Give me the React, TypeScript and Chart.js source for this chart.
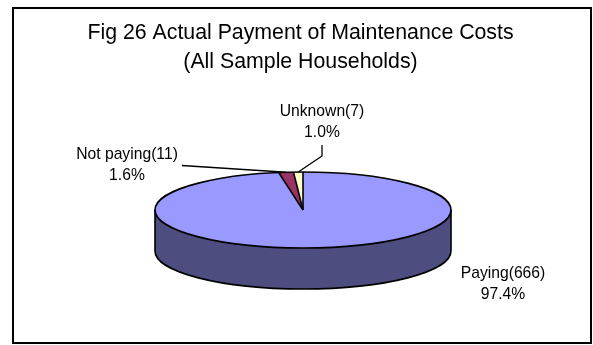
import React, { useEffect, useRef } from "react";
import { Chart, registerables } from "chart.js";

Chart.register(...registerables);

// ---- data ----
const categories = ["Paying", "Not paying", "Unknown"];
const counts = [666, 11, 7];
const titleLines = ["Fig 26 Actual Payment of Maintenance Costs", "(All Sample Households)"];

// ---- styles / layout ----
const sliceColors = ["#9999FF", "#993366", "#FFFFCC"];
const sideColors = ["#4D4D80", "#4D1A33", "#808066"];
const FONT = '"Liberation Sans", Arial, sans-serif';
const W = 593;
const H = 345;
const PIE = { cx: 303, cy: 210, rx: 148, ry: 38, depth: 41 };
// first-line centre of each label block
const labelX = [503, 127, 322];
const labelY = [274, 155, 112];
const leaderKind = ["none", "side", "below"];
const LINE_GAP = 21;

const pt = (a: number, dy = 0) => [PIE.cx + PIE.rx * Math.cos(a), PIE.cy + dy + PIE.ry * Math.sin(a)];

const pie3d = {
  id: "pie3d",
  beforeDraw(chart: any) {
    const ctx = chart.ctx;
    ctx.save();
    ctx.fillStyle = "#ffffff";
    ctx.fillRect(0, 0, chart.width, chart.height);
    ctx.strokeStyle = "#000";
    ctx.lineWidth = 2;
    ctx.strokeRect(13, 8, 578, 335);
    ctx.restore();
  },
  beforeDatasetsDraw(chart: any) {
    const ctx = chart.ctx;
    const arcs = chart.getDatasetMeta(0).data;
    if (!arcs.length) return;
    // front side band of each slice
    ctx.save();
    arcs.forEach((arc: any, i: number) => {
      const s = Math.max(arc.startAngle, 0);
      const e = Math.min(arc.endAngle, Math.PI);
      if (e <= s) return;
      const [x0, y0] = pt(s);
      const [x1, y1] = pt(e, PIE.depth);
      ctx.beginPath();
      ctx.moveTo(x0, y0);
      ctx.ellipse(PIE.cx, PIE.cy, PIE.rx, PIE.ry, 0, s, e);
      ctx.lineTo(x1, y1);
      ctx.ellipse(PIE.cx, PIE.cy + PIE.depth, PIE.rx, PIE.ry, 0, e, s, true);
      ctx.closePath();
      ctx.fillStyle = sideColors[i];
      ctx.fill();
    });
    ctx.restore();
    // project the library's circular pie onto the tilted ellipse
    const { x, y, outerRadius: R } = arcs[0];
    ctx.save();
    ctx.translate(PIE.cx, PIE.cy);
    ctx.scale(PIE.rx / R, PIE.ry / R);
    ctx.translate(-x, -y);
  },
  afterDatasetsDraw(chart: any) {
    const ctx = chart.ctx;
    const arcs = chart.getDatasetMeta(0).data;
    if (!arcs.length) return;
    ctx.restore();
    ctx.save();
    ctx.strokeStyle = "#000";
    ctx.lineWidth = 1.6;
    ctx.lineJoin = "round";
    // side outline
    ctx.beginPath();
    const [lx, ly] = pt(Math.PI);
    const [rx0, ry0] = pt(0);
    ctx.moveTo(rx0, ry0);
    ctx.lineTo(rx0, ry0 + PIE.depth);
    ctx.ellipse(PIE.cx, PIE.cy + PIE.depth, PIE.rx, PIE.ry, 0, 0, Math.PI);
    ctx.lineTo(lx, ly);
    ctx.stroke();
    // slice boundaries on the side
    arcs.forEach((arc: any) => {
      const a = arc.startAngle;
      if (a > 0.001 && a < Math.PI - 0.001) {
        const [bx, by] = pt(a);
        ctx.beginPath();
        ctx.moveTo(bx, by);
        ctx.lineTo(bx, by + PIE.depth);
        ctx.stroke();
      }
    });
    // top outline
    ctx.beginPath();
    ctx.ellipse(PIE.cx, PIE.cy, PIE.rx, PIE.ry, 0, 0, Math.PI * 2);
    ctx.stroke();
    // radial boundaries
    arcs.forEach((arc: any) => {
      const [bx, by] = pt(arc.startAngle);
      ctx.beginPath();
      ctx.moveTo(PIE.cx, PIE.cy);
      ctx.lineTo(bx, by);
      ctx.stroke();
    });
    // labels
    const total = counts.reduce((p, c) => p + c, 0);
    ctx.fillStyle = "#000";
    ctx.font = `15.7px ${FONT}`;
    ctx.textAlign = "center";
    ctx.textBaseline = "middle";
    ctx.lineWidth = 1.3;
    arcs.forEach((arc: any, i: number) => {
      const l1 = `${categories[i]}(${counts[i]})`;
      const l2 = `${((counts[i] / total) * 100).toFixed(1)}%`;
      const x = labelX[i];
      const y = labelY[i];
      ctx.fillText(l1, x, y);
      ctx.fillText(l2, x, y + LINE_GAP);
      const mid = (arc.startAngle + arc.endAngle) / 2;
      const [mx, my] = pt(mid);
      if (leaderKind[i] === "side") {
        const w = ctx.measureText(l1).width;
        ctx.beginPath();
        ctx.moveTo(x + w / 2 + 4, y + LINE_GAP / 2);
        ctx.lineTo(mx, my);
        ctx.stroke();
      } else if (leaderKind[i] === "below") {
        ctx.beginPath();
        ctx.moveTo(x, y + LINE_GAP + 12);
        ctx.lineTo(x, y + LINE_GAP + 23);
        ctx.lineTo(mx, my);
        ctx.stroke();
      }
    });
    ctx.restore();
  },
};

export default function App() {
  const ref = useRef<HTMLCanvasElement>(null);
  useEffect(() => {
    if (!ref.current) return;
    const chart = new Chart(ref.current, {
      type: "pie",
      data: {
        labels: categories,
        datasets: [
          {
            data: counts,
            backgroundColor: sliceColors,
            borderWidth: 0,
            clip: false as any,
          },
        ],
      },
      options: {
        responsive: false,
        animation: false,
        events: [],
        devicePixelRatio: 1,
        layout: { padding: { top: 8, left: 8, right: 0, bottom: 4 } },
        plugins: {
          legend: { display: false },
          tooltip: { enabled: false },
          title: {
            display: true,
            text: titleLines,
            color: "#000",
            font: { family: FONT, size: 21.3, weight: "normal", lineHeight: 1.36 },
            padding: { top: 11, bottom: 4 },
          },
        },
      },
      plugins: [pie3d],
    });
    return () => chart.destroy();
  }, []);
  return (
    <div style={{ position: "absolute", left: 0, top: 0, width: W, height: H }}>
      <canvas ref={ref} width={W} height={H} style={{ display: "block" }} />
    </div>
  );
}
